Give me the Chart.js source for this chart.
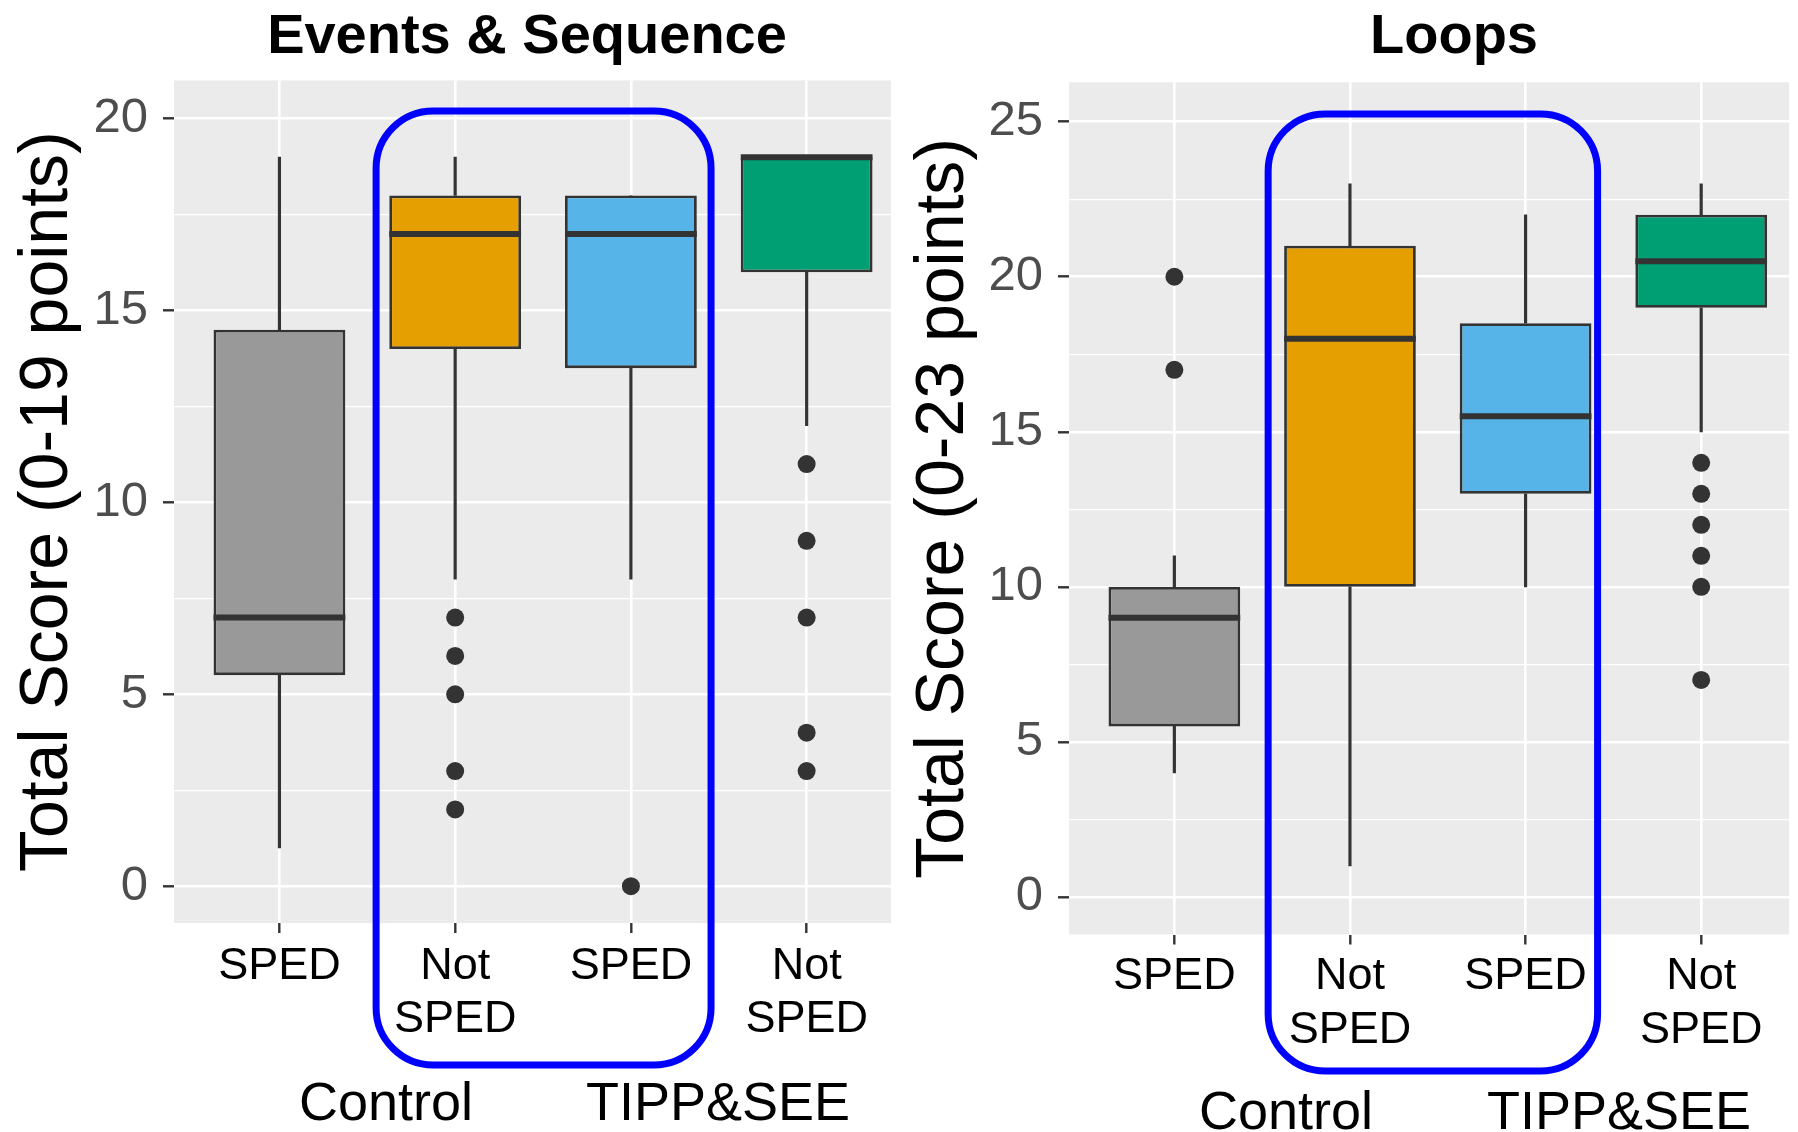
<!DOCTYPE html>
<html lang="en">
  <head>
    <meta charset="UTF-8" />
    <title>Events &amp; Sequence / Loops</title>
    <script src="https://cdn.jsdelivr.net/npm/chart.js"></script>
    <style>
      body {
        margin: 0;
        background: #ffffff;
      }
      .page {
        position: relative;
        width: 1798px;
        height: 1132px;
        overflow: hidden;
      }
      canvas {
        position: absolute;
        top: 0;
      }
      #esChart {
        left: 0;
      }
      #loopChart {
        left: 900px;
      }
      .group,
      .panel-title {
        position: absolute;
        font-family: "Liberation Sans", Arial, sans-serif;
        color: #000;
        white-space: nowrap;
        transform: translateX(-50%);
      }
      .group {
        font-size: 54px;
        line-height: 54px;
      }
      .panel-title {
        font-size: 56px;
        line-height: 56px;
        font-weight: bold;
      }
    </style>
  </head>
  <body>
    <div class="page">
      <canvas id="esChart" width="900" height="1132"></canvas>
      <canvas id="loopChart" width="898" height="1132"></canvas>

      <div class="panel-title" style="left: 527px; top: 6px">Events &amp; Sequence</div>
      <div class="panel-title" style="left: 1454px; top: 6px">Loops</div>

      <!-- condition labels under each pair of groups -->
      <div class="group" style="left: 386px; top: 1074px">Control</div>
      <div class="group" style="left: 718px; top: 1074px">TIPP&amp;SEE</div>
      <div class="group" style="left: 1286px; top: 1083px">Control</div>
      <div class="group" style="left: 1619px; top: 1083px">TIPP&amp;SEE</div>
    </div>

    <script>
      // same four groups in both panels
      const groupLabels = ["SPED", ["Not", "SPED"], "SPED", ["Not", "SPED"]];
      const groupColors = ["#999999", "#E69F00", "#56B4E9", "#009E73"];

      // Events & Sequence (0-19 points)
      const esLow = [1, 8, 8, 12];
      const esQ1 = [5.5, 14, 13.5, 16];
      const esMedian = [7, 17, 17, 19];
      const esQ3 = [14.5, 18, 18, 19];
      const esHigh = [19, 19, 18, 19];
      const esOutliers = [[], [7, 6, 5, 3, 2], [0], [11, 9, 7, 4, 3]];
      const esTicks = [0, 2.5, 5, 7.5, 10, 12.5, 15, 17.5, 20];

      // Loops (0-23 points)
      const loopLow = [4, 1, 10, 15];
      const loopQ1 = [5.5, 10, 13, 19];
      const loopMedian = [9, 18, 15.5, 20.5];
      const loopQ3 = [10, 21, 18.5, 22];
      const loopHigh = [11, 23, 22, 23];
      const loopOutliers = [[20, 17], [], [], [14, 13, 12, 11, 10, 7]];
      const loopTicks = [0, 2.5, 5, 7.5, 10, 12.5, 15, 17.5, 20, 22.5, 25];

      const FONT = "'Liberation Sans', Arial, Helvetica, sans-serif";
      const INK = "#333333";

      // grey ggplot-style panel behind the grid
      const panelBg = {
        id: "panelBg",
        beforeDraw(chart) {
          const { ctx, chartArea: a } = chart;
          ctx.save();
          ctx.fillStyle = "#EBEBEB";
          ctx.fillRect(a.left, a.top, a.right - a.left, a.bottom - a.top);
          ctx.restore();
        },
      };

      function makePanel(id, p) {
        const xs = groupLabels.map((_, i) => i);

        // medians on top of the boxes, blue frame round the middle pair
        const extras = {
          id: "boxExtras",
          afterDatasetsDraw(chart) {
            const ctx = chart.ctx;
            const y = chart.scales.y;
            const boxes = chart.getDatasetMeta(0).data;
            ctx.save();
            ctx.strokeStyle = INK;
            ctx.lineWidth = 6;
            p.median.forEach((m, i) => {
              const b = boxes[i];
              const py = y.getPixelForValue(m);
              ctx.beginPath();
              ctx.moveTo(b.x - b.width / 2, py);
              ctx.lineTo(b.x + b.width / 2, py);
              ctx.stroke();
            });
            ctx.restore();
          },
          afterDraw(chart) {
            const { ctx, chartArea } = chart;
            const { x, y } = chart.scales;
            const l = x.getPixelForValue(p.frame.from);
            const r = x.getPixelForValue(p.frame.to);
            const t = y.getPixelForValue(p.frame.top);
            const b = chartArea.bottom + p.frame.below;
            ctx.save();
            ctx.strokeStyle = "#0000FF";
            ctx.lineWidth = 7;
            ctx.beginPath();
            ctx.roundRect(l, t, r - l, b - t, 57);
            ctx.stroke();
            ctx.restore();
          },
        };

        return new Chart(document.getElementById(id), {
          type: "bar",
          data: {
            datasets: [
              {
                // boxes, Q1 to Q3
                data: xs.map((i) => ({ x: i, y: [p.q1[i], p.q3[i]] })),
                backgroundColor: groupColors,
                borderColor: INK,
                borderWidth: 2.8,
                borderSkipped: false,
                grouped: false,
                categoryPercentage: 1,
                barPercentage: 0.75,
                order: 1,
              },
              {
                // lower whiskers
                data: xs.map((i) => ({ x: i, y: [p.low[i], p.q1[i]] })),
                backgroundColor: INK,
                borderWidth: 0,
                barThickness: 2.5,
                grouped: false,
                order: 2,
              },
              {
                // upper whiskers
                data: xs.map((i) => ({ x: i, y: [p.q3[i], p.high[i]] })),
                backgroundColor: INK,
                borderWidth: 0,
                barThickness: 2.5,
                grouped: false,
                order: 2,
              },
              {
                type: "scatter",
                data: p.outliers.flatMap((vals, i) => vals.map((v) => ({ x: i, y: v }))),
                pointRadius: 9,
                backgroundColor: INK,
                borderWidth: 0,
                order: 0,
              },
            ],
          },
          options: {
            responsive: false,
            animation: false,
            events: [],
            layout: { padding: { left: 0, right: p.padRight, top: p.padTop, bottom: 0 } },
            plugins: {
              legend: { display: false },
              tooltip: { enabled: false },
            },
            scales: {
              x: {
                type: "linear",
                min: -0.6,
                max: p.xMax,
                offset: false,
                afterBuildTicks: (s) => {
                  s.ticks = xs.map((v) => ({ value: v }));
                },
                afterFit: (s) => {
                  s.height = p.xAxisHeight;
                },
                border: { display: false },
                grid: {
                  offset: false,
                  color: "#FFFFFF",
                  lineWidth: 2.6,
                  tickColor: INK,
                  tickLength: 10,
                  tickWidth: 2.4,
                },
                ticks: {
                  callback: (v, i) => groupLabels[i],
                  color: "#000",
                  font: { family: FONT, size: 45, lineHeight: 1.18 },
                  padding: p.xPad,
                  autoSkip: false,
                  maxRotation: 0,
                  minRotation: 0,
                },
              },
              y: {
                min: p.yMin,
                max: p.yMax,
                afterBuildTicks: (s) => {
                  s.ticks = p.ticks.map((v) => ({ value: v }));
                },
                afterFit: (s) => {
                  s.width = p.yAxisWidth;
                },
                border: { display: false },
                grid: {
                  color: "#FFFFFF",
                  lineWidth: (c) => (c.tick && c.tick.value % 5 === 0 ? 2.6 : 1.3),
                  tickColor: (c) => (c.tick && c.tick.value % 5 === 0 ? INK : "rgba(0,0,0,0)"),
                  tickLength: 11,
                  tickWidth: 2.4,
                },
                ticks: {
                  callback: (v) => (v % 5 === 0 ? v : ""),
                  color: "#4D4D4D",
                  font: { family: FONT, size: 49 },
                  padding: 15,
                },
                title: {
                  display: true,
                  text: p.yTitle,
                  color: "#000",
                  font: { family: FONT, size: 68, lineHeight: 1.2 },
                  padding: { top: p.yTitlePad, bottom: 0 },
                },
              },
            },
          },
          plugins: [panelBg, extras],
        });
      }

      makePanel("esChart", {
        yTitle: "Total Score (0-19 points)",
        low: esLow,
        q1: esQ1,
        median: esMedian,
        q3: esQ3,
        high: esHigh,
        outliers: esOutliers,
        ticks: esTicks,
        yMin: -0.96,
        yMax: 21.0,
        xMax: 3.48,
        padRight: 7,
        padTop: 80.4,
        xAxisHeight: 209,
        yAxisWidth: 174,
        xPad: 7,
        yTitlePad: 7,
        frame: { from: 0.55, to: 2.456, top: 20.2, below: 142 },
      });

      makePanel("loopChart", {
        yTitle: "Total Score (0-23 points)",
        low: loopLow,
        q1: loopQ1,
        median: loopMedian,
        q3: loopQ3,
        high: loopHigh,
        outliers: loopOutliers,
        ticks: loopTicks,
        yMin: -1.21,
        yMax: 26.27,
        xMax: 3.5,
        padRight: 0,
        padTop: 82.3,
        xAxisHeight: 197.5,
        yAxisWidth: 169,
        xPad: 6,
        yTitlePad: 3,
        frame: { from: 0.534, to: 2.41, top: 25.25, below: 136.5 },
      });
    </script>
  </body>
</html>
